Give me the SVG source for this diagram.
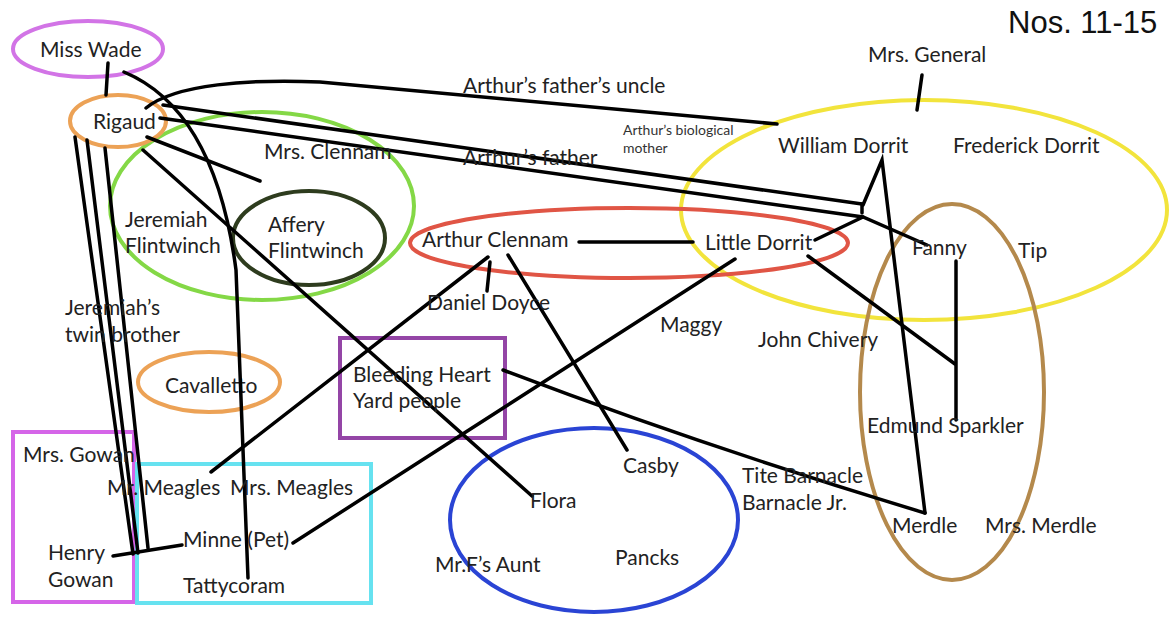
<svg xmlns="http://www.w3.org/2000/svg" width="1175" height="617" viewBox="0 0 1175 617">
<style>
.t{font-family:Lato,"Open Sans","Liberation Sans",sans-serif;font-size:21px;fill:#222}
.s{font-family:Lato,"Open Sans","Liberation Sans",sans-serif;font-size:14px;fill:#333}
.h{font-family:"Liberation Sans",Arial,sans-serif;font-size:31px;fill:#111}
.g{fill:none;stroke-width:4}
.c path,.c line{fill:none;stroke:#000;stroke-width:3.5;stroke-linecap:round}
</style>
<rect width="1175" height="617" fill="#fff"/>
<g id="groups">
<ellipse id="yellow" class="g" cx="924" cy="210" rx="243" ry="110" stroke="#f2e43c"/>
<ellipse id="brown" class="g" cx="952" cy="392" rx="92" ry="188" stroke="#b4894c"/>
<ellipse id="red" class="g" cx="629" cy="243" rx="219" ry="35" stroke="#e05545"/>
<ellipse id="green" class="g" cx="262" cy="206" rx="152" ry="94" stroke="#84d846"/>
<ellipse id="affery" class="g" cx="309" cy="238" rx="76" ry="47" stroke="#2e3c1e"/>
<ellipse id="blue" class="g" cx="594" cy="520" rx="144" ry="92" stroke="#2a44d4"/>
<rect id="bleeding" class="g" x="340" y="338" width="165" height="100" stroke="#9445a6"/>
<rect id="gowan" class="g" x="13" y="432" width="121" height="170" stroke="#d565e8"/>
<rect id="meagles" class="g" x="137" y="464" width="234" height="139" stroke="#66e2f0"/>
</g>
<g id="n-misswade"><ellipse class="g" cx="88" cy="49" rx="75" ry="28" stroke="#d274e6"/><text class="t" x="40" y="57">Miss Wade</text></g>
<g id="n-rigaud"><ellipse class="g" cx="118" cy="121" rx="48" ry="26" stroke="#eca256"/><text class="t" x="93" y="129">Rigaud</text></g>
<g id="n-cavalletto"><ellipse class="g" cx="209" cy="382" rx="71" ry="30" stroke="#eca256"/><text class="t" x="165" y="393">Cavalletto</text></g>
<g id="connectors" class="c">
<line x1="108" y1="63" x2="106" y2="95"/>
<path d="M124,72 Q215,110 236,270 L248,578"/>
<path d="M146,108 C175,84 250,79 320,82 L777,124"/>
<line x1="163" y1="105" x2="862" y2="204"/>
<path d="M160,118 L863,217 L927,245"/>
<line x1="862" y1="204" x2="862" y2="213"/>
<path d="M863,205 L882,160 L925,513"/>
<line x1="815" y1="240" x2="863" y2="217"/>
<line x1="147" y1="137" x2="260" y2="181"/>
<line x1="143" y1="150" x2="532" y2="496"/>
<line x1="75" y1="137" x2="133" y2="554"/>
<line x1="87" y1="140" x2="138" y2="553"/>
<line x1="105" y1="148" x2="148" y2="548"/>
<line x1="113" y1="556" x2="182" y2="545"/>
<line x1="488" y1="257" x2="211" y2="472"/>
<line x1="490" y1="262" x2="487" y2="291"/>
<line x1="508" y1="255" x2="627" y2="450"/>
<line x1="579" y1="242" x2="693" y2="242"/>
<line x1="735" y1="259" x2="293" y2="543"/>
<line x1="808" y1="256" x2="955" y2="364"/>
<line x1="956" y1="261" x2="956" y2="420"/>
<path d="M503,370 Q700,445 925,513"/>
<line x1="917" y1="110" x2="922" y2="75"/>
</g>
<g id="n-title"><text class="h" x="1008" y="33">Nos. 11-15</text></g>
<g id="n-mrsgeneral"><text class="t" x="868" y="62">Mrs. General</text></g>
<g id="n-uncle"><text class="t" x="463" y="93">Arthur’s father’s uncle</text></g>
<g id="n-biomother"><text class="s" x="623" y="135">Arthur’s biological</text><text class="s" x="623" y="153">mother</text></g>
<g id="n-father"><text class="t" x="463" y="165">Arthur’s father</text></g>
<g id="n-mrsclennam"><text class="t" x="264" y="159">Mrs. Clennam</text></g>
<g id="n-jeremiah"><text class="t" x="125" y="227">Jeremiah</text><text class="t" x="125" y="253">Flintwinch</text></g>
<g id="n-affery"><text class="t" x="268" y="232">Affery</text><text class="t" x="268" y="258">Flintwinch</text></g>
<g id="n-william"><text class="t" x="778" y="153">William Dorrit</text></g>
<g id="n-frederick"><text class="t" x="953" y="153">Frederick Dorrit</text></g>
<g id="n-arthur"><text class="t" x="422" y="247">Arthur Clennam</text></g>
<g id="n-littledorrit"><text class="t" x="705" y="250">Little Dorrit</text></g>
<g id="n-fanny"><text class="t" x="912" y="255">Fanny</text></g>
<g id="n-tip"><text class="t" x="1018" y="258">Tip</text></g>
<g id="n-doyce"><text class="t" x="427" y="310">Daniel Doyce</text></g>
<g id="n-maggy"><text class="t" x="660" y="332">Maggy</text></g>
<g id="n-chivery"><text class="t" x="758" y="347">John Chivery</text></g>
<g id="n-twin"><text class="t" x="65" y="315">Jeremiah’s</text><text class="t" x="65" y="342">twin brother</text></g>
<g id="n-bleeding"><text class="t" x="353" y="382">Bleeding Heart</text><text class="t" x="353" y="408">Yard people</text></g>
<g id="n-sparkler"><text class="t" x="867" y="433">Edmund Sparkler</text></g>
<g id="n-mrsgowan"><text class="t" x="23" y="462">Mrs. Gowan</text></g>
<g id="n-mrmeagles"><text class="t" x="107" y="495">Mr. Meagles</text></g>
<g id="n-mrsmeagles"><text class="t" x="230" y="495">Mrs. Meagles</text></g>
<g id="n-minne"><text class="t" x="183" y="547">Minne (Pet)</text></g>
<g id="n-henry"><text class="t" x="48" y="560">Henry</text><text class="t" x="48" y="587">Gowan</text></g>
<g id="n-tattycoram"><text class="t" x="183" y="593">Tattycoram</text></g>
<g id="n-casby"><text class="t" x="623" y="473">Casby</text></g>
<g id="n-flora"><text class="t" x="530" y="508">Flora</text></g>
<g id="n-barnacle"><text class="t" x="742" y="483">Tite Barnacle</text><text class="t" x="742" y="510">Barnacle Jr.</text></g>
<g id="n-aunt"><text class="t" x="435" y="572">Mr.F’s Aunt</text></g>
<g id="n-pancks"><text class="t" x="615" y="565">Pancks</text></g>
<g id="n-merdle"><text class="t" x="892" y="533">Merdle</text></g>
<g id="n-mrsmerdle"><text class="t" x="985" y="533">Mrs. Merdle</text></g>
</svg>
